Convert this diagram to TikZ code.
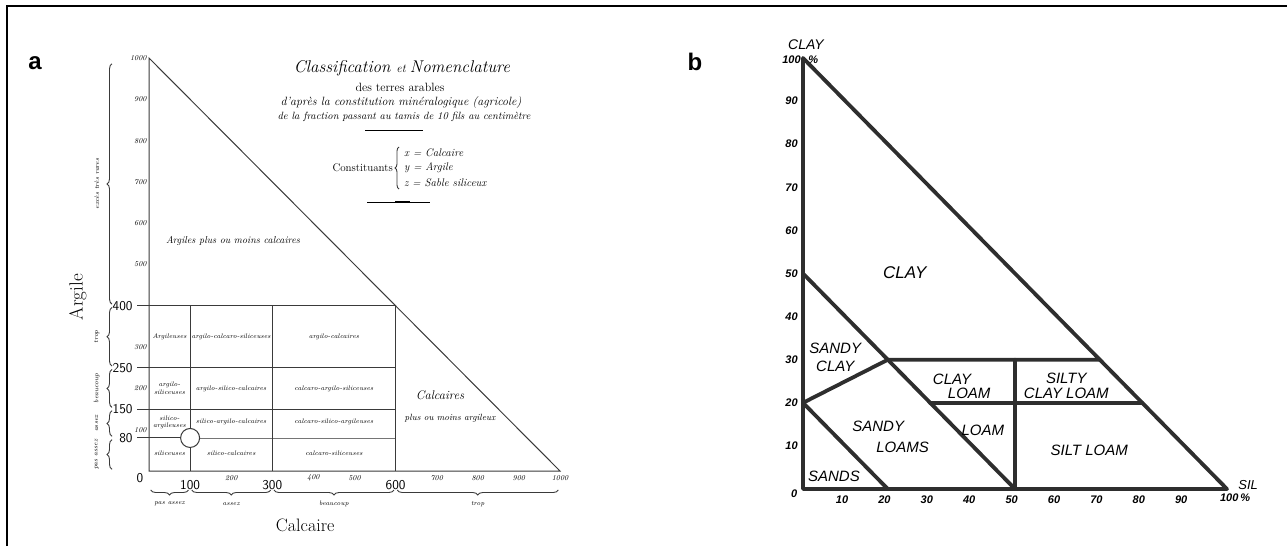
\documentclass[tikz,border=0pt]{standalone}
\usepackage{fontspec}
\newfontfamily\handfont{Liberation Sans}
\newfontfamily\tagfont{Liberation Sans}
\usetikzlibrary{decorations.pathreplacing,calc}
\definecolor{pencil}{HTML}{3A3A3A}
\definecolor{inkb}{HTML}{2E2E2E}
\newcommand{\fsz}[2]{\fontsize{#1}{#2}\selectfont}

\begin{document}
\begin{tikzpicture}[x=1pt, y=-1pt,
    grid/.style={draw=pencil, line width=1pt},
    tickval/.style={font=\fsz{7.5}{9}\itshape, inner sep=1pt},
    bignum/.style={font=\sffamily\fsz{13.5}{15}, inner sep=1pt},
    cell/.style={font=\fsz{6.6}{7.5}\itshape, align=center, inner sep=0pt},
    bracelbl/.style={font=\fsz{6.5}{8}\itshape, inner sep=0pt},
    curly/.style={draw=pencil, line width=0.9pt, decorate,
                  decoration={brace, amplitude=5pt}},
    soilline/.style={draw=inkb, line width=3.8pt, line cap=round, line join=round},
    soil/.style={font=\handfont\itshape\fsz{15}{18}, inner sep=0pt},
    axnum/.style={font=\handfont\itshape\bfseries\fsz{11}{13}, inner sep=0pt},
    panel/.style={font=\tagfont\bfseries\fsz{24}{28}, inner sep=0pt}]
  \useasboundingbox (0,0) rectangle (1287,546);
  \draw[line width=2.2pt] (7,546) -- (7,6) -- (1287,6);
  \node[panel] (taga) at (35,63) {a};
  \node[panel] (tagb) at (695,62) {b};

  % panel a : French classification, values in thousandths
  \begin{scope}[shift={(149,471)}, x=0.411pt, y=0.413pt]
    \coordinate (aO) at (0,0);
    \coordinate (aA) at (0,1000);
    \coordinate (aC) at (1000,0);
    \draw[grid] (aA) -- (aO) -- (aC) -- cycle;
    \foreach \v in {400,250,150}
      \draw[grid] (-29,\v) -- (600,\v);
    \draw[grid] (-29,80) -- (100,80);
    \draw[grid, line width=0.6pt, draw=pencil!70] (100,80) -- (600,80);
    \foreach \u in {100,300,600}
      \draw[grid] (\u,0) -- (\u,400);
    \node[circle, draw=pencil, fill=white, line width=1pt, minimum size=19pt,
          inner sep=0pt] (mark) at (100,80) {};
    % scales
    \foreach \v in {100,200,300,500,600,700,800,900,1000}
      \node[tickval, anchor=east] at (-3,\v) {\v};
    \foreach \v in {400,250,150,80}
      \node[bignum, anchor=east] at (-37,\v) {\v};
    \node[bignum] (zero) at (-22,-17) {0};
    \foreach \u in {100,300,600}
      \node[bignum] at (\u,-34) {\u};
    \foreach \u in {200,400,500,700,800,900,1000}
      \node[tickval] at (\u,-16) {\u};
    % cells
    \foreach \cx/\cy/\txt in {50/325/Argileuses, 200/325/argilo-calcaro-siliceuses,
        450/325/argilo-calcaires,
        50/200/{argilo-\\siliceuses}, 200/200/argilo-silico-calcaires,
        450/200/calcaro-argilo-siliceuses,
        50/118/{silico-\\argileuses}, 200/118/silico-argilo-calcaires,
        450/118/calcaro-silico-argileuses,
        50/42/siliceuses, 200/42/silico-calcaires, 450/42/calcaro-siliceuses}
      \node[cell] at (\cx,\cy) {\txt};
    % braces
    \foreach \lo/\hi/\txt in {0/80/pas assez, 80/150/assez, 150/250/beaucoup,
        250/400/trop, 400/990/excès très rares} {
      \draw[curly] (-90,\lo+4) -- (-90,\hi-4);
      \node[bracelbl, rotate=90] at (-127,{(\lo+\hi)/2}) {\txt};
    }
    \foreach \lo/\hi/\txt in {0/100/pas assez, 100/300/assez, 300/600/beaucoup,
        600/1000/trop} {
      \draw[curly] (\hi-4,-46) -- (\lo+4,-46);
      \node[bracelbl] at ({(\lo+\hi)/2},-80) {\txt};
    }
    \node[font=\fsz{19}{22}, rotate=90] (argile) at (-173,421) {Argile};
    \node[font=\fsz{18}{21}] (calcaire) at (380,-131) {Calcaire};
  \end{scope}

  % panel a : heading and zones
  \node[font=\itshape\fsz{17}{20}] (title) at (402,68)
    {Classification \fsz{12}{14}et \fsz{17}{20}Nomenclature};
  \node[font=\fsz{12}{14}] (terres) at (400,87) {des terres arables};
  \node[font=\itshape\fsz{12}{14}] (apres) at (401,103)
    {d'après la constitution minéralogique (agricole)};
  \node[font=\itshape\fsz{10.5}{12}] (tamis) at (404,117)
    {de la fraction passant au tamis de 10 fils au centimètre};
  \draw[line width=1pt] (365,130) -- (423,130);
  \node[font=\fsz{11}{13}, anchor=east, inner sep=0pt] (const) at (393,168) {Constituants};
  \draw[curly, decoration={amplitude=4pt}] (399,189) -- (399,147);
  \foreach \yy/\txt in {153/{\textit{x} = Calcaire}, 168/{\textit{y} = Argile},
      183/{\textit{z} = Sable siliceux}}
    \node[font=\itshape\fsz{11}{13}, anchor=west, inner sep=0pt] at (404,\yy) {\txt};
  \draw[line width=1pt] (367,202) -- (430,202);
  \draw[line width=2.2pt] (395,202) -- (410,202);
  \node[font=\itshape\fsz{10}{12}] (argiles) at (233,241) {Argiles plus ou moins calcaires};
  \node[font=\itshape\fsz{12.5}{14}] (calcaires) at (440,395) {Calcaires};
  \node[font=\itshape\fsz{9}{11}] (argileux) at (450,418) {plus ou moins argileux};

  % panel b : soil triangle in percent
  \begin{scope}[shift={(803,489)}, x=4.24pt, y=4.31pt]
    \coordinate (b0) at (0,0);
    \coordinate (bc) at (0,100);
    \coordinate (bs) at (100,0);
    \draw[soilline] (bc) -- (b0) -- (bs) -- cycle;
    \draw[soilline] (0,50) -- (50,0);
    \draw[soilline] (0,20) -- (20,0);
    \draw[soilline] (0,20) -- (20,30) -- (70,30);
    \draw[soilline] (30,20) -- (80,20);
    \draw[soilline] (50,0) -- (50,30);
    % zones
    \node[soil, font=\handfont\itshape\fsz{17}{20}] (clay) at (24,50.3) {CLAY};
    \node[soil, align=center] (sandyclay) at (7.6,30.6) {SANDY\\CLAY};
    \node[soil, align=left, anchor=west, font=\handfont\itshape\fsz{15}{14}]
      (clayloam) at (30.6,23.9) {CLAY\\\hspace*{1em}LOAM};
    \node[soil, align=left, anchor=west, font=\handfont\itshape\fsz{15}{21}]
      (sandyloams) at (11.6,12.2) {SANDY\\\hspace*{1.6em}LOAMS};
    \node[soil] (loam) at (42.4,13.5) {LOAM};
    \node[soil] (sands) at (7.3,3) {SANDS};
    \node[soil, align=center, font=\handfont\itshape\fsz{15}{15}]
      (siltyclay) at (62.1,24) {SILTY\\CLAY LOAM};
    \node[soil] (siltloam) at (67.5,9) {SILT LOAM};
    % scales
    \foreach \v in {10,20,...,90}
      \node[axnum, anchor=east] at (-1.2,\v) {\v};
    \node[axnum] at (-2.1,-1) {0};
    \foreach \u in {10,20,...,90}
      \node[axnum] at (\u-0.8,-2.6) {\u};
    \node[axnum, anchor=east] at (-0.5,99.5) {100};
    \node[axnum, anchor=west] at (1.2,99.5) {\%};
    \node[soil, font=\handfont\itshape\fsz{14}{16}] (clayax) at (0.7,103.2) {CLAY};
    \node[axnum] at (101.9,-2) {100\,\%};
    \node[soil, font=\handfont\itshape\fsz{13}{15}] (siltax) at (105,1) {SIL};
  \end{scope}
\end{tikzpicture}
\end{document}
